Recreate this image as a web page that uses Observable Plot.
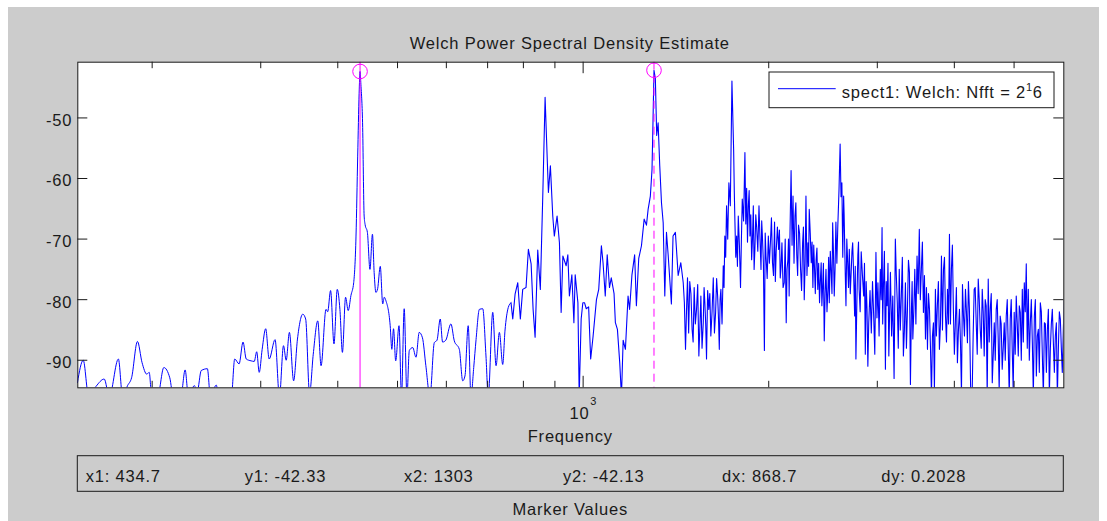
<!DOCTYPE html>
<html><head><meta charset="utf-8">
<script src="https://cdn.jsdelivr.net/npm/d3@7"></script>
<script src="https://cdn.jsdelivr.net/npm/@observablehq/plot@0.6"></script>
<style>
body{margin:7px 8px;background:#fff;}
</style></head><body><div id="chart"></div>
<script>
// Frequency (Hz) and PSD (dB/Hz)
const freq = [
151.3,154.6,157.8,162.2,167.2,170.4,176.3,179.1,182.4,185.2,189.3,192.6,196.0,197.8,199.7,204.1,208.9,213.6,216.4,222.6,
226.2,229.0,234.1,236.8,240.2,245.8,248.6,254.1,256.5,268.8,272.2,276.7,280.8,284.2,289.4,292.8,295.5,298.3,301.6,305.6,
309.6,316.5,321.7,326.6,329.9,333.9,339.2,344.1,351.0,354.8,360.0,365.0,371.2,375.8,382.8,385.2,389.4,394.4,399.2,
403.2,407.0,411.8,415.9,420.2,424.5,428.2,430.9,433.2,434.7,436.1,438.8,441.4,443.0,446.8,451.1,455.3,458.2,461.2,464.2,
468.8,473.1,475.9,478.9,486.5,489.5,492.6,496.6,502.8,507.5,512.6,517.9,522.5,529.2,535.7,542.2,548.8,555.8,564.4,573.6,
579.4,586.5,591.6,598.7,610.3,618.1,629.8,637.8,643.2,651.0,657.8,664.6,670.4,678.8,687.4,695.7,701.6,713.5,722.4,731.4,
740.6,746.8,756.1,763.9,
768.9,775.6,783.4,791.0,798.0,808.0,815.1,823.5,829.6,835.8,844.1,852.3,860.1,867.6,874.2,878.4,884.9,892.8,898.0,907.3,
915.3,921.2,927.1,938.6,944.5,950.0,958.8,966.1,970.8,980.7,985.4,992.7,998.9,1005.1,1011.8,1020.8,1028.6,1038.0,1051.0,1060.0,
1070.6,1077.2,1086.2,1094.1,1103.4,1110.8,1122.4,1128.0,1136.6,1146.5,1153.9,1161.2,1171.1,1182.7,1189.6,1200.0,1212.1,1220.1,1230.8,1243.4,
1256.0,1266.8,1274.7,1285.4,1293.4,1298.5,1303.0,1309.6,1316.2,1323.2,1331.3,1339.9,1348.5,1356.6,1365.2,1373.7,1390.4,1399.0,1411.4,1426.1,
1440.2,1453.3,1465.8,1476.7,1489.1,1502.3,1513.9,1527.3,1540.7,1552.3,1566.2,1575.5,1585.4,1598.8,1611.1,1625.9,1640.1,1652.5,1662.9,1672.8,
1687.6,1697.5,1708.5,1723.5,1732.7,1743.2,1754.3,1762.8,1773.9,1785.0,1800.0,1811.8,1829.8,1841.6,1853.4,1864.5,1876.3,1888.1,1899.3,1911.7,
1928.5,1943.1,1953.3,1967.9,1979.6,1997.1,2012.5,2028.2,2043.9,2056.4,2075.3,2087.8,2101.1,2119.2,2134.9,2148.2,2158.4,2174.1,2189.8,2206.0,
2220.7,2235.3,2252.6,2269.8,2283.6,2298.3,2315.5,2326.7,2344.0,2358.6,2373.3,2387.1,2401.9,2417.8,2432.7,2445.8,2460.8,2476.7,2495.4,2507.5,
2526.2,2539.3,2554.3,2570.2,2588.8,2611.1,2628.3,2645.5,2655.6,2668.7,2685.9,2702.0,2722.2,2736.4,2756.6,2769.7,2789.9,2803.3,2825.0,2851.1,
2868.5,2887.0,2905.5,2933.7,
2959.8,2984.8,3007.0,3033.9,3053.7,3068.9,3092.3,3112.1,3132.0,3150.7,3178.8,3209.1,3232.5,3256.3,3281.6,3306.8,3332.1,3357.4,3382.6,3407.9,
3425.6,3450.8,3479.8,3509.5,3536.7,3563.9,3591.1,3618.2,3645.4,3672.6,3699.7,3726.9,3754.3,3783.2,3812.1,3841.1,3870.0,3898.9,3927.8,3956.7,
3985.6,4015.4,4046.3,4077.2,4108.0,4138.9,4169.7,4200.6,4231.5,4274.7,4307.6,4340.5,4373.4,4406.3,4439.2,4472.0,4505.2,4539.7,4574.1,4608.6,
4643.1,4677.6,4712.1,4746.6,4782.9,4819.4,4855.9,4892.4,4928.9,4965.3,5001.9,5040.4,5078.8,5117.3,5155.8,5194.2,5232.7,5272.2,5312.5,5352.8,
5393.1,5433.4,5473.8,5514.7,5556.7,5598.7,5640.7,5682.7,5724.7,5767.5,5811.3,5855.1,5898.9,5942.7,5986.5,6031.8
];
const psd = [
-93.7,-90.0,-96,-94.3,-93.1,-96,-89.8,-96,-94.2,-92.9,-86.9,-90.4,-92.3,-92.0,-96,-96,-91.2,-92.9,-96,-96,
-91.6,-96,-94.2,-95,-91.7,-91.4,-96,-94.1,-96,-96,-89.8,-90.6,-87.0,-89.8,-90.1,-90.2,-88.6,-92.0,-88.2,-84.8,
-89.8,-86.6,-96,-87.6,-90.0,-85.4,-93.4,-86.5,-82.4,-83.2,-95.5,-89.0,-83.5,-90.9,-81.6,-82.0,-78.5,-87.3,-78.3,
-81.6,-88.7,-79.6,-81.8,-79.3,-77.2,-69.5,-56.3,-46.0,-42.33,-44.5,-50.8,-66.2,-67.6,-68.9,-75.0,-69.2,-75.5,-78.8,-78.2,
-74.5,-80.7,-79.6,-80.2,-84.3,-88.2,-84.8,-90.1,-84.3,-96,-81.5,-96,-88.4,-87.9,-89.5,-85.4,-86.3,-90.9,-96,-87.1,
-86.7,-83.2,-87.0,-86.7,-84.0,-86.8,-88.2,-93.4,-92.6,-84.3,-96,-91.2,-86.6,-81.6,-81.5,-89.3,-96,-82.1,-90.9,-85.4,
-90.7,-85.2,-81.3,-80.5,
-83.2,-79.1,-77.2,-83.2,-78.3,-78.0,-71.7,-74.1,-81.6,-86.2,-71.8,-78.3,-62.9,-46.6,-56.3,-62.3,-57.9,-66.2,-69.5,-66.2,
-70.6,-82.1,-72.8,-74.4,-72.6,-79.4,-75.9,-83.8,-75.9,-80.5,-96,-83.2,-80.5,-80.5,-81.5,-81.2,-89.8,-86.0,-80.0,-78.3,
-71.1,-73.9,-79.4,-72.6,-78.0,-76.4,-79.0,-83.8,-84.9,-90.4,-96,-86.7,-88.2,-79.4,-81.6,-75.9,-72.6,-81.0,-73.2,-71.1,
-66.7,-67.7,-65.1,-62.9,-58.5,-50.0,-42.13,-43.5,-52.9,-50.8,-57.9,-64.0,-67.3,-79.4,-68.9,-72.6,-80.7,-69.5,-68.9,-76.0,
-73.9,-77.2,-88.2,-76.4,-77.0,-84.9,-78.0,-81.6,-89.3,-79.4,-83.8,-80.5,-89.8,-81.6,-86.0,-76.4,-82.1,-79.4,-88.2,-78.3,
-74.4,-69.5,-64.5,-60.7,-64.5,-43.9,-55.2,-67.2,-69.5,-66.2,-78.0,-63.4,-55.7,-61.6,-64.5,-69.5,-73.4,-64.5,-71.7,-68.0,
-64.5,-75.0,-69.5,-88.4,-72.8,-69.5,-70.6,-73.9,-67.2,-72.1,-71.7,-76.4,-70.6,-77.2,-83.8,-73.4,-79.4,-58.7,-62.9,-66.2,
-72.6,-67.7,-75.0,-70.6,-80.0,-62.9,-70.6,-65.1,-73.9,-78.0,-75.0,-73.4,-78.3,-80.5,-73.9,-78.0,-86.8,-75.0,-78.0,-80.5,
-75.9,-67.3,-79.4,-67.2,-67.7,-54.3,-60.7,-62.9,-70.6,-81.0,-73.9,-71.7,-75.0,-70.6,-82.7,-89.8,-72.6,-78.3,-72.1,-79.4,
-89.0,-81.6,-83.8,-85.5,
-82.7,-72.2,-77.2,-75.0,-68.1,-78.3,-91.5,-81.0,-89.3,-75.5,-79.4,-70.0,-80.5,-75.0,-79.4,-89.3,-77.2,-81.6,-75.5,-81.6,
-86.5,-75.0,-72.8,-68.4,-75.0,-82.1,-86.5,-88.2,-81.6,-96,-83.8,-78.3,-81.0,-88.2,-72.8,-75.0,-82.7,-78.3,-69.2,-75.0,
-81.6,-83.8,-90.4,-81.6,-95.5,-82.7,-78.3,-87.1,-81.6,-96,-78.3,-83.8,-76.6,-84.9,-78.3,-89.3,-81.0,-76.6,-81.6,-93.7,
-83.8,-81.6,-86.5,-82.7,-91.5,-83.8,-82.7,-88.2,-83.2,-88.2,-82.1,-79.4,-89.3,-82.1,-78.3,-77.2,-74.1,-78.3,-83.8,-87.1,
-82.7,-92.6,-84.9,-80.5,-89.3,-83.8,-92.0,-81.6,-88.2,-81.6,-92.0,-83.8,-88.2,-83.2,-92.0,-79.9
];
// additional samples read from the dense, noisy upper band (1.45–6 kHz)
const freqDense = [
1459.5,1471,1483,1495.7,1508,1520.6,1534,1546.5,1559,1571,1580.5,1592,1605,1618.5,1633,1646.3,1657.7,1667.8,1680,1692.5,
1703,1716,1758.5,1768.3,1779.4,1792.5,1806,1820.8,1835.7,1847.5,1859,1870.4,1882.2,1893.7,1905.5,1920,1935.8,1948.2,1960.6,1973.8,
1988.4,2004.8,2020.4,2036,2050,2065.8,2081.5,2094.5,2110,2127,2141.5,2153.3,2166,2182,2198,2213.3,2228,2244,2261,2276.7,
2291,2307,2321,2335.4,2351.3,2366,2380,2394.5,2410,2425,2439,2453,2468.7,2486,2501.5,2517,2532.7,2546.8,2562,2579.5,
2600,2619.7,2637,2650.5,2662,2677,2694,2712,2729.3,2746.5,2763,2780,2796.6,2814,2838,2859.8,2877.7,2896,2919.6,2946.7,
2972,2996,3020,3043.8,3061,3080.6,3102,3122,3141,3164.7,3194,3220.8,3244.4,3269,3294,3319.4,3344.7,3370,3395,3416.7,
3438,3465,3494.6,3523,3550,3577.5,3604.6,3631.8,3659,3686,3713.3,3740.6,3768.7,3797.6,3826.6,3855.5,3884.4,3913.3,3942.2,3971,
4000.5,4030.8,4061.7,4092.6,4123.4,4154.3,4185,4216,4253,4291,4324,4357,4390,4422.7,4455.6,4488.6,4522.4,4557,4591.3,4625.8,
4660.3,4694.8,4729.3,4764.7,4801,4837.6,4874,4910.6,4947,4983.6,5021,5059.6,5098,5136.5,5175,5213.4,5252.4,5292.3,5332.6,5373,
5413,5453.6,5494,5535.7,5577.7,5619.7,5661.7,5703.7,5746,5789.4,5833,5877,5920.8,5964.6,6009
];
const psdDense = [
-80.5,-82,-85.5,-79,-87,-84,-77.5,-84.5,-88,-78,-84,-78.5,-79,-82,-85.5,-76.5,-83,-80,-84,-78,
-73,-70,-62,-73,-74.5,-71,-70,-67,-67.5,-70.5,-62,-66,-70,-75,-66,-72,-70,-67,-74,-69,
-76.5,-74,-66.5,-76,-77,-68,-68.5,-74.5,-78,-70,-75,-70,-68,-71,-74,-64,-76,-69,-78.5,-68,
-74,-76,-74.5,-69,-70.5,-71,-79,-71.5,-74,-77,-81,-74,-79,-82,-73,-72,-79,-72,-75,-74,
-62,-63,-73,-66,-76,-70,-78,-79,-72,-76,-74.5,-80,-70.5,-82,-76,-74,-77,-91,-78.5,-77,
-89,-83,-86,-80,-84,-72,-77,-74,-82,-86,-93,-76,-88,-85,-73,-85,-88,-73.5,-94,-77,
-82,-84,-79,-80,-70.5,-76,-78,-79,-88,-86,-95,-86,-77,-84,-85,-73,-87,-84,-84,-71,
-89,-78,-85,-87,-77.5,-86,-82,-77,-96,-86,-78,-89,-80,-88,-82,-80,-96,-87,-79,-89,
-90,-80,-95,-84,-88,-90,-80,-96,-80,-95,-89,-84,-81,-90,-87,-82,-88,-90,-80,-96,
-80,-86,-92,-82,-96,-84,-85,-96,-84,-87,-86,-96,-82,-88,-85
];
const markerFreq = [434.7, 1303];
const markerPow = [-42.33, -42.13];
const markerLabels = ["x1: 434.7", "y1: -42.33", "x2: 1303", "y2: -42.13", "dx: 868.7", "dy: 0.2028"];
const yTicks = [-90, -80, -70, -60, -50];
const xMinorTicks = [200, 300, 400, 500, 600, 700, 800, 900, 2000, 3000, 4000, 5000];
const xMajorTicks = [1000];
const titleText = "Welch Power Spectral Density Estimate";
const xLabel = "Frequency";
const legendText = "spect1: Welch: Nfft = 2";
const footerText = "Marker Values";

const data = freq.map((f, i) => ({f, p: psd[i]}))
  .concat(freqDense.map((f, i) => ({f, p: psdDense[i]})))
  .sort((a, b) => a.f - b.f);
const smoothPart = data.filter(d => d.f <= 763.9);
const jaggedPart = data.filter(d => d.f >= 763.9);
const markers = markerFreq.map((f, i) => ({f, p: markerPow[i]}));

const W = 1091, H = 514;
const mL = 69.3, mR = 35.7, mT = 54.7, mB = 133.7;
const fw = W - mL - mR, fh = H - mT - mB;
const ink = "#1a1a1a";
const font = "'Liberation Sans', Arial, Helvetica, sans-serif";

const plot = Plot.plot({
  width: W, height: H,
  marginLeft: mL, marginRight: mR, marginTop: mT, marginBottom: mB,
  style: {background: "#cccccc", fontFamily: font, fontSize: "16.5px", color: ink, letterSpacing: "0.8px", overflow: "visible"},
  x: {type: "log", domain: [151.5, 6020]},
  y: {domain: [-94.55, -40.8]},
  marks: [
    Plot.frame({fill: "white", stroke: null}),
    Plot.lineY(smoothPart, {x: "f", y: "p", stroke: "#0000ff", strokeWidth: 1, clip: true, curve: "monotone-x"}),
    Plot.lineY(jaggedPart, {x: "f", y: "p", stroke: "#0000ff", strokeWidth: 1.1, clip: true}),
    Plot.ruleX([markerFreq[0]], {stroke: "#ff00ff", strokeWidth: 1}),
    Plot.ruleX([markerFreq[1]], {stroke: "#ff00ff", strokeWidth: 1, strokeDasharray: "8,5"}),
    Plot.dot(markers, {x: "f", y: "p", r: 7.3, stroke: "#ff00ff", strokeWidth: 1, fill: "none"}),
    Plot.ruleY(yTicks, {insetRight: fw - 10, stroke: ink}),
    Plot.ruleY(yTicks, {insetLeft: fw - 10, stroke: ink}),
    Plot.ruleX(xMinorTicks, {insetBottom: fh - 6.5, stroke: ink}),
    Plot.ruleX(xMinorTicks, {insetTop: fh - 6.5, stroke: ink}),
    Plot.ruleX(xMajorTicks, {insetBottom: fh - 11.5, stroke: ink}),
    Plot.ruleX(xMajorTicks, {insetTop: fh - 11.5, stroke: ink}),
    Plot.frame({stroke: ink, strokeWidth: 1}),
    Plot.axisY({ticks: yTicks, tickSize: 0, tickPadding: 5.6, dy: 2.7, label: null, tickFormat: d => String(d), fill: ink}),
    Plot.axisX({ticks: xMajorTicks, tickSize: 0, tickPadding: 19, dx: -3.6, label: null, tickFormat: () => "10", fill: ink}),
    Plot.text(xMajorTicks, {x: d => d, frameAnchor: "bottom", dx: 10.5, dy: 17.5, text: () => "3", fontSize: 11, fill: ink})
  ]
});

document.getElementById("chart").appendChild(plot);
const svg = d3.select(plot);
const cx = mL + fw / 2;

svg.append("text").attr("x", cx - 0.5).attr("y", 41.5).attr("text-anchor", "middle")
  .attr("fill", ink).text(titleText);
svg.append("text").attr("x", cx).attr("y", 434.7).attr("text-anchor", "middle")
  .attr("fill", ink).text(xLabel);

// legend
const lg = svg.append("g");
lg.append("rect").attr("x", 761).attr("y", 65).attr("width", 285).attr("height", 35.7)
  .attr("fill", "white").attr("stroke", ink).attr("stroke-width", 1);
lg.append("line").attr("x1", 770).attr("x2", 827.7).attr("y1", 81.7).attr("y2", 81.7)
  .attr("stroke", "#0000ff").attr("stroke-width", 1);
const lt = lg.append("text").attr("x", 833.7).attr("y", 91.3).attr("text-anchor", "start")
  .attr("fill", ink).text(legendText);
lt.append("tspan").attr("font-size", "11px").attr("dy", -7.5).text("1");
lt.append("tspan").attr("dy", 7.5).text("6");

// marker values box
svg.append("rect").attr("x", mL).attr("y", 448.7).attr("width", fw).attr("height", 35.6)
  .attr("fill", "none").attr("stroke", ink).attr("stroke-width", 1);
markerLabels.forEach((t, i) => {
  svg.append("text").attr("x", 77.7 + i * 159.1).attr("y", 474.7).attr("text-anchor", "start")
    .attr("fill", ink).text(t);
});
svg.append("text").attr("x", cx).attr("y", 508).attr("text-anchor", "middle")
  .attr("fill", ink).text(footerText);
</script></body></html>
